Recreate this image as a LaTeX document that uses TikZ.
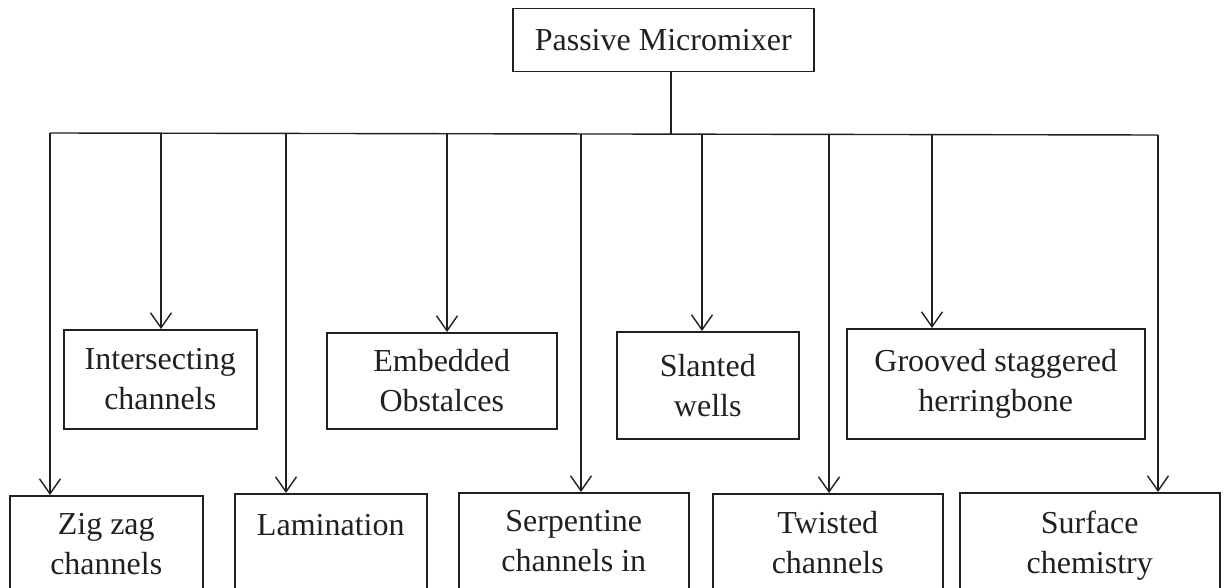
\documentclass[tikz,border=0pt]{standalone}
\usepackage{fontspec}
\setmainfont{Liberation Serif}
\usetikzlibrary{arrows.meta}
\definecolor{ink}{RGB}{35,31,32}
\begin{document}
\begin{tikzpicture}[x=1pt,y=-1pt,
  conn/.style={draw=ink, line width=1.4pt},
  arr/.style={conn, -{Straight Barb[length=15pt,width=21pt,line width=1.4pt]}},
  box/.style={draw=ink, line width=1.5pt, inner sep=0pt, anchor=north west,
    align=center, font=\fontsize{32}{40}\selectfont},
  txt/.style={anchor=north, yshift=-18.5pt, inner sep=0pt,
    align=center, font=\fontsize{32}{40}\selectfont, text=ink}]
\useasboundingbox (0,0) rectangle (1224,588);
\clip (0,0) rectangle (1224,588);

% root
\node[box, minimum width=301pt, minimum height=63pt, text=ink] (root) at (512,8) {Passive Micromixer};

% second row (upper branch boxes)
\node[box, minimum width=193pt, minimum height=99pt, text=ink] (inter) at (63,329) {Intersecting\\channels};
\node[box, minimum width=230pt, minimum height=96pt, text=ink] (embed) at (326,332) {Embedded\\Obstalces};
\node[box, minimum width=182pt, minimum height=107pt, text=ink] (slant) at (616,331) {Slanted\\wells};
\node[box, minimum width=298pt, minimum height=110pt, text=ink] (groove) at (846,328) {Grooved staggered\\herringbone};

% bottom row (lower branch boxes, running past the lower edge)
\node[box, minimum width=193pt, minimum height=130pt, label={[txt]north:{Zig zag\\channels}}] (zig) at (9,495) {};
\node[box, minimum width=192pt, minimum height=130pt, label={[txt,yshift=-3pt]north:{Lamination}}] (lam) at (234,493) {};
\node[box, minimum width=230pt, minimum height=130pt, label={[txt]north:{Serpentine\\channels in}}] (serp) at (458,492) {};
\node[box, minimum width=230pt, minimum height=130pt, label={[txt]north:{Twisted\\channels}}] (twist) at (712,493) {};
\node[box, minimum width=260pt, minimum height=130pt, label={[txt]north:{Surface\\chemistry}}] (surf) at (959,492) {};

% trunk and distribution bus
\coordinate (trunk) at (671,134);
\coordinate (busL) at (50,133);
\coordinate (busR) at (1158,135);
\draw[conn] (root.south -| trunk) -- (trunk);
\draw[conn] (busL) -- (busR);

% drops from the bus to each box
\foreach \xx/\yy/\nn in {50/133/zig, 161/133/inter, 286/133/lam, 447/134/embed,
  581/134/serp, 702/134/slant, 829/134/twist, 932/135/groove, 1158/135/surf} {
  \coordinate (d\nn) at (\xx,\yy);
  \draw[arr] (d\nn) -- (d\nn |- \nn.north);
}
\end{tikzpicture}
\end{document}
